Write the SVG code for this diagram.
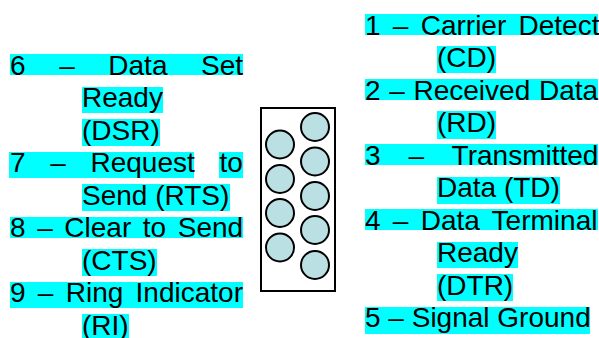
<svg xmlns="http://www.w3.org/2000/svg" width="599" height="338" viewBox="0 0 599 338">
<style>
.h{fill:#00ffff}
text{font-family:"Liberation Sans",Arial,sans-serif;font-size:28px;fill:#000}
.p{fill:#bbe0e3;stroke:#000;stroke-width:2}
</style>
<rect width="599" height="338" fill="#fff"/>
<g id="left-labels">
<rect class="h" x="10" y="54" width="233" height="21"/>
<rect class="h" x="82" y="87" width="81" height="26"/>
<rect class="h" x="82" y="119" width="78" height="27"/>
<rect class="h" x="9" y="152" width="185" height="26"/>
<rect class="h" x="219" y="152" width="24" height="26"/>
<rect class="h" x="82" y="184" width="148" height="27"/>
<rect class="h" x="10" y="217" width="233" height="21"/>
<rect class="h" x="82" y="249" width="75" height="27"/>
<rect class="h" x="10" y="282" width="233" height="26"/>
<rect class="h" x="82" y="314" width="47" height="24"/>
<text x="10" y="75" word-spacing="25.8">6 – Data Set</text>
<text x="82" y="107">Ready</text>
<text x="82" y="140">(DSR)</text>
<text x="10" y="172" word-spacing="16.9">7 – Request to</text>
<text x="82" y="205">Send (RTS)</text>
<text x="10" y="237" word-spacing="3.8">8 – Clear to Send</text>
<text x="82" y="270">(CTS)</text>
<text x="10" y="302" word-spacing="4.5">9 – Ring Indicator</text>
<text x="82" y="335">(RI)</text>
</g>
<g id="connector">
<rect x="261" y="108" width="74" height="183" fill="#fff" stroke="#000" stroke-width="2"/>
<circle class="p" cx="315" cy="127" r="14"/>
<circle class="p" cx="315" cy="161.5" r="14"/>
<circle class="p" cx="315" cy="196" r="14"/>
<circle class="p" cx="315" cy="230" r="14"/>
<circle class="p" cx="315" cy="265" r="14"/>
<circle class="p" cx="280" cy="144.5" r="14"/>
<circle class="p" cx="280" cy="179" r="14"/>
<circle class="p" cx="280" cy="213" r="14"/>
<circle class="p" cx="280" cy="247.5" r="14"/>
</g>
<g id="right-labels">
<rect class="h" x="365" y="14" width="233" height="21"/>
<rect class="h" x="437" y="46" width="59" height="27"/>
<rect class="h" x="365" y="79" width="233" height="21"/>
<rect class="h" x="437" y="111" width="59" height="28"/>
<rect class="h" x="365" y="144" width="233" height="21"/>
<rect class="h" x="437" y="177" width="123" height="27"/>
<rect class="h" x="365" y="209" width="233" height="21"/>
<rect class="h" x="437" y="242" width="81" height="26"/>
<rect class="h" x="437" y="274" width="76" height="27"/>
<rect class="h" x="365" y="307" width="225" height="27"/>
<text x="365" y="35" word-spacing="4.5">1 – Carrier Detect</text>
<text x="437" y="67">(CD)</text>
<text x="365" y="100" word-spacing="0.9">2 – Received Data</text>
<text x="437" y="132">(RD)</text>
<text x="365" y="165" word-spacing="20.2">3 – Transmitted</text>
<text x="437" y="197">Data (TD)</text>
<text x="365" y="230" word-spacing="4.5">4 – Data Terminal</text>
<text x="437" y="262">Ready</text>
<text x="437" y="295">(DTR)</text>
<text x="365" y="327">5 – Signal Ground</text>
</g>
</svg>
